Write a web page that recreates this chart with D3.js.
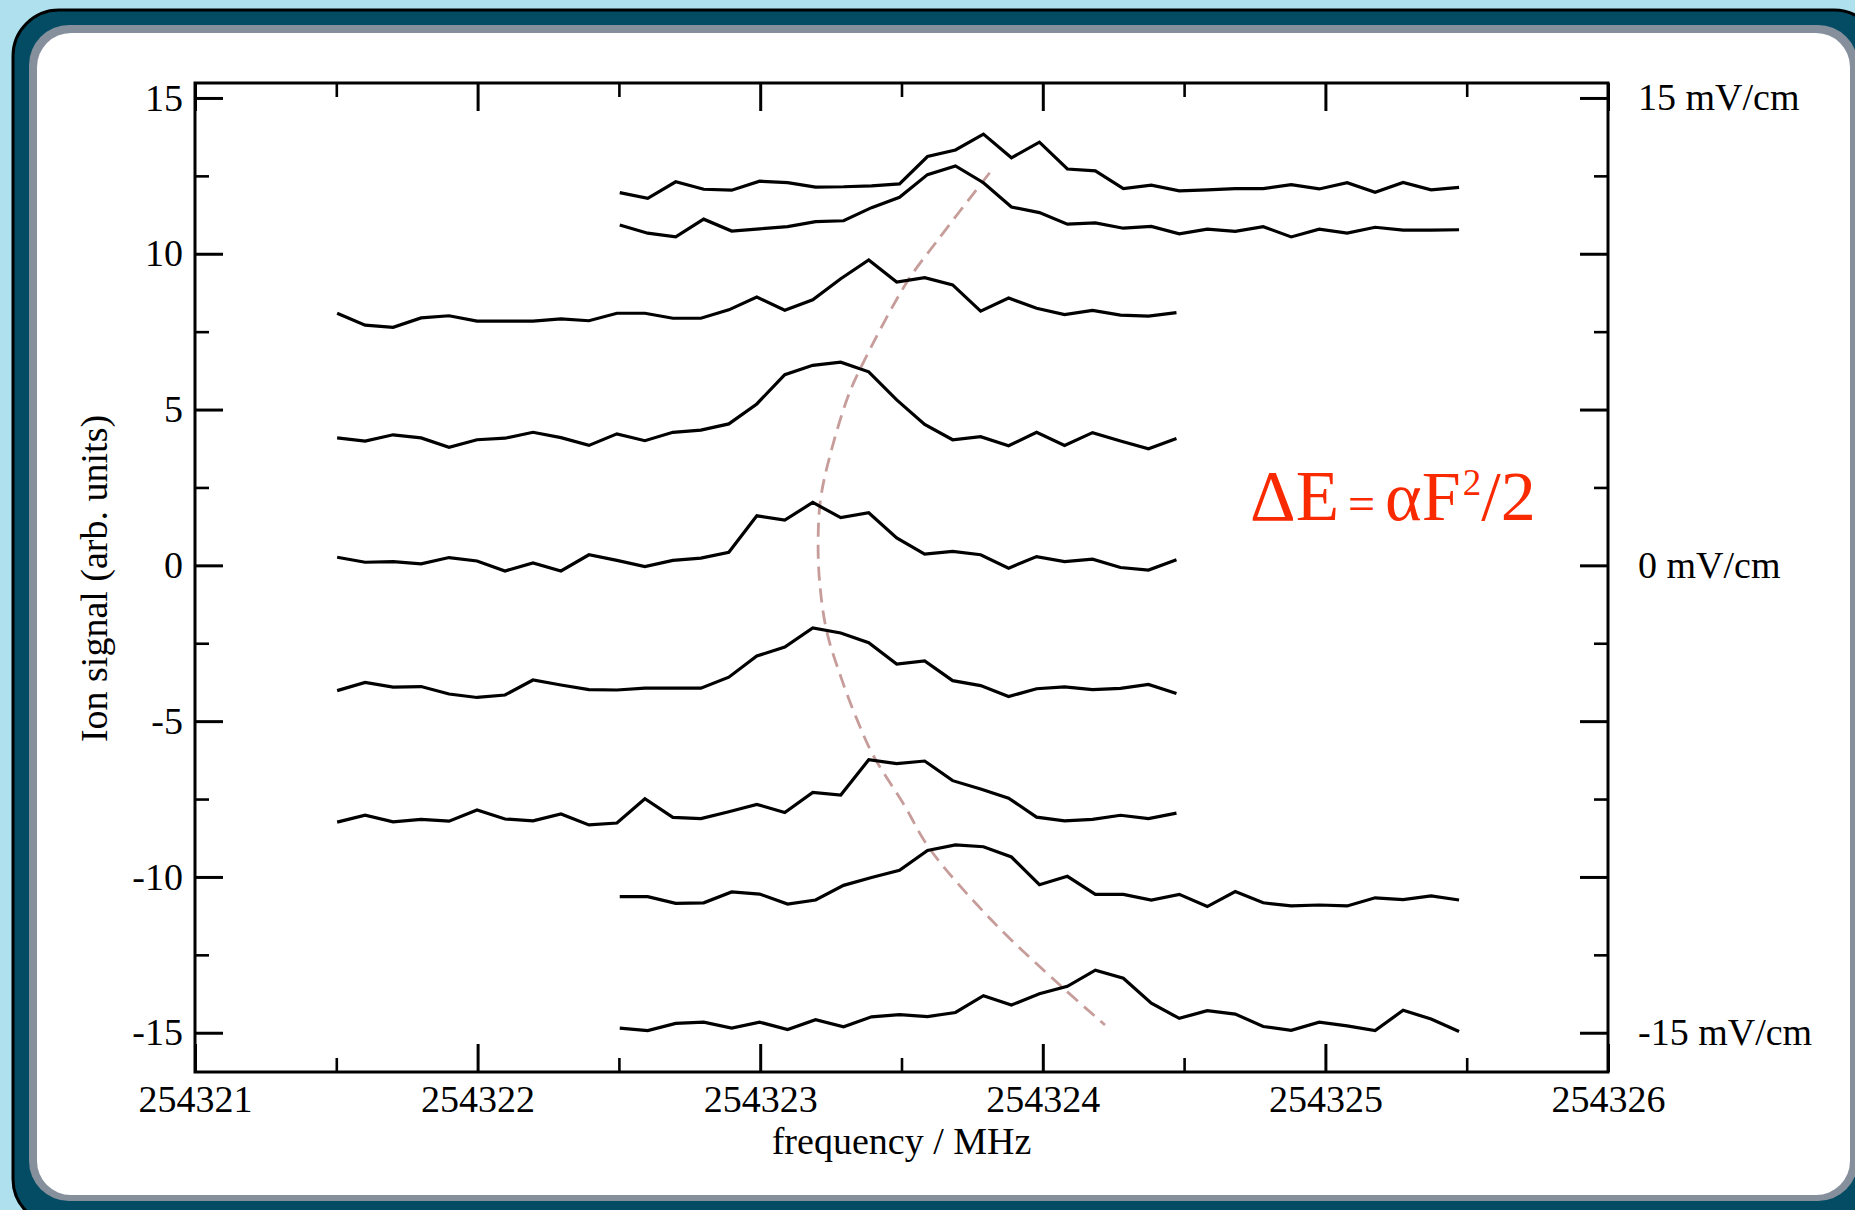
<!DOCTYPE html>
<html>
<head>
<meta charset="utf-8">
<script src="https://cdn.jsdelivr.net/npm/d3@7"></script>
<style>
  html, body { margin: 0; padding: 0; background: #aee0ee; }
  svg { display: block; }
</style>
</head>
<body>
<svg id="chart" width="1855" height="1210"></svg>
<script>
// Sample grid: 31 points per scan, 0.099 MHz apart
const scanStep = 0.099;
const scanStarts = [254322.503, 254322.503, 254321.503, 254321.503, 254321.503, 254321.503, 254321.503, 254322.503, 254322.503];

// Ion signal for each field setting, top (+15 mV/cm) to bottom (-15 mV/cm), offset vertically
const scan1 = [11.96, 11.78, 12.31, 12.07, 12.04, 12.33, 12.28, 12.14, 12.15, 12.18, 12.24, 13.12, 13.33, 13.84, 13.08, 13.58, 12.72, 12.66, 12.09, 12.20, 12.02, 12.05, 12.09, 12.09, 12.22, 12.08, 12.28, 11.97, 12.29, 12.05, 12.13];
const scan2 = [10.92, 10.66, 10.54, 11.11, 10.73, 10.80, 10.87, 11.03, 11.06, 11.48, 11.81, 12.54, 12.82, 12.28, 11.50, 11.32, 10.95, 10.99, 10.82, 10.88, 10.64, 10.79, 10.72, 10.87, 10.54, 10.79, 10.66, 10.85, 10.76, 10.76, 10.77];
const scan3 = [8.09, 7.71, 7.64, 7.94, 8.01, 7.84, 7.84, 7.84, 7.91, 7.85, 8.09, 8.09, 7.93, 7.93, 8.20, 8.61, 8.19, 8.52, 9.20, 9.80, 9.09, 9.23, 9.00, 8.16, 8.58, 8.25, 8.05, 8.18, 8.03, 8.00, 8.11];
const scan4 = [4.09, 3.99, 4.19, 4.09, 3.79, 4.03, 4.08, 4.27, 4.10, 3.85, 4.22, 4.00, 4.27, 4.34, 4.54, 5.18, 6.12, 6.42, 6.52, 6.21, 5.31, 4.52, 4.03, 4.13, 3.84, 4.27, 3.85, 4.26, 3.99, 3.74, 4.07];
const scan5 = [0.26, 0.10, 0.12, 0.05, 0.25, 0.14, -0.18, 0.08, -0.18, 0.34, 0.16, -0.04, 0.16, 0.23, 0.42, 1.59, 1.45, 2.02, 1.53, 1.69, 0.88, 0.36, 0.45, 0.34, -0.09, 0.28, 0.12, 0.20, -0.07, -0.15, 0.18];
const scan6 = [-4.02, -3.76, -3.91, -3.89, -4.13, -4.24, -4.16, -3.68, -3.84, -3.99, -4.00, -3.94, -3.94, -3.94, -3.59, -2.91, -2.62, -2.01, -2.17, -2.48, -3.17, -3.07, -3.70, -3.86, -4.21, -3.96, -3.90, -3.99, -3.95, -3.82, -4.11];
const scan7 = [-8.24, -8.02, -8.23, -8.15, -8.21, -7.85, -8.14, -8.20, -7.98, -8.33, -8.27, -7.49, -8.09, -8.13, -7.91, -7.67, -7.93, -7.29, -7.37, -6.24, -6.36, -6.28, -6.91, -7.18, -7.47, -8.08, -8.20, -8.15, -8.02, -8.13, -7.95];
const scan8 = [-10.63, -10.63, -10.85, -10.83, -10.48, -10.55, -10.87, -10.74, -10.27, -10.02, -9.79, -9.15, -8.97, -9.03, -9.36, -10.25, -9.98, -10.56, -10.56, -10.74, -10.56, -10.95, -10.47, -10.83, -10.93, -10.90, -10.93, -10.67, -10.73, -10.61, -10.74];
const scan9 = [-14.85, -14.93, -14.70, -14.66, -14.85, -14.66, -14.90, -14.58, -14.81, -14.49, -14.42, -14.48, -14.35, -13.81, -14.11, -13.75, -13.51, -12.99, -13.25, -14.05, -14.54, -14.29, -14.40, -14.80, -14.92, -14.66, -14.78, -14.93, -14.28, -14.56, -14.96];

// Stark-shift guide: line centre versus field offset
const guideFreq  = [254323.812, 254323.625, 254323.52, 254323.37, 254323.31, 254323.235, 254323.212, 254323.205, 254323.21, 254323.235, 254323.29, 254323.345, 254323.40, 254323.51, 254323.60, 254323.82, 254324.07, 254324.22];
const guideLevel = [12.6, 10.4, 9.1, 6.6, 5.4, 3.1, 2.0, 0.8, -0.5, -2.1, -3.7, -5.0, -6.1, -7.7, -9.1, -11.4, -13.55, -14.75];

// Axis ticks and labels
const xMajorTicks = [254321, 254322, 254323, 254324, 254325, 254326];
const xMinorTicks = [254321.5, 254322.5, 254323.5, 254324.5, 254325.5];
const yMajorTicks = [-15, -10, -5, 0, 5, 10, 15];
const yMinorTicks = [-12.5, -7.5, -2.5, 2.5, 7.5, 12.5];
const fieldLabels = ["15 mV/cm", "0 mV/cm", "-15 mV/cm"];
const fieldLabelLevels = [15, 0, -15];

const scans = [scan1, scan2, scan3, scan4, scan5, scan6, scan7, scan8, scan9];

const svg = d3.select("#chart");
const FONT = "'Liberation Serif', 'Times New Roman', Times, serif";

// ---- rounded slide frame ----
svg.append("rect").attr("x", 0).attr("y", 0).attr("width", 1855).attr("height", 1210).attr("fill", "#aee0ee");
svg.append("rect").attr("x", 13).attr("y", 10).attr("width", 1880 - 13).attr("height", 1225 - 10)
  .attr("rx", 46).attr("fill", "#034c63").attr("stroke", "#000").attr("stroke-width", 3);
svg.append("rect").attr("x", 29).attr("y", 25).attr("width", 1858 - 29).attr("height", 1201 - 25)
  .attr("rx", 40).attr("fill", "#86909d");
svg.append("rect").attr("x", 37).attr("y", 33).attr("width", 1850 - 37).attr("height", 1195 - 33)
  .attr("rx", 34).attr("fill", "#ffffff");

// ---- plot area ----
const plotL = 195, plotR = 1608, plotT = 83, plotB = 1072;
const x = d3.scaleLinear().domain([254321, 254326]).range([plotL, plotR]);
const y = d3.scaleLinear().domain([-16.26, 15.48]).range([plotB, plotT]);

const g = svg.append("g");

function styleAxis(sel, width) {
  sel.select(".domain").remove();
  sel.selectAll(".tick line").attr("stroke", "#000").attr("stroke-width", width);
  sel.selectAll("text").attr("fill", "#000").style("font-family", FONT).style("font-size", "38px");
}

const hyphen = d => String(d);

// left axis
g.append("g").attr("transform", `translate(${plotL},0)`)
  .call(d3.axisLeft(y).tickValues(yMajorTicks).tickSize(-28).tickPadding(12).tickFormat(hyphen))
  .call(s => styleAxis(s, 3));
g.append("g").attr("transform", `translate(${plotL},0)`)
  .call(d3.axisLeft(y).tickValues(yMinorTicks).tickSize(-14).tickFormat(""))
  .call(s => styleAxis(s, 2.6));
// right axis
g.append("g").attr("transform", `translate(${plotR},0)`)
  .call(d3.axisRight(y).tickValues(yMajorTicks).tickSize(-28).tickFormat(""))
  .call(s => styleAxis(s, 3));
g.append("g").attr("transform", `translate(${plotR},0)`)
  .call(d3.axisRight(y).tickValues(yMinorTicks).tickSize(-14).tickFormat(""))
  .call(s => styleAxis(s, 2.6));
// bottom axis
g.append("g").attr("transform", `translate(0,${plotB})`)
  .call(d3.axisBottom(x).tickValues(xMajorTicks).tickSize(-28).tickPadding(13).tickFormat(d3.format("d")))
  .call(s => styleAxis(s, 3));
g.append("g").attr("transform", `translate(0,${plotB})`)
  .call(d3.axisBottom(x).tickValues(xMinorTicks).tickSize(-14).tickFormat(""))
  .call(s => styleAxis(s, 2.6));
// top axis
g.append("g").attr("transform", `translate(0,${plotT})`)
  .call(d3.axisTop(x).tickValues(xMajorTicks).tickSize(-28).tickFormat(""))
  .call(s => styleAxis(s, 3));
g.append("g").attr("transform", `translate(0,${plotT})`)
  .call(d3.axisTop(x).tickValues(xMinorTicks).tickSize(-14).tickFormat(""))
  .call(s => styleAxis(s, 2.6));

// plot box
g.append("rect").attr("x", plotL).attr("y", plotT).attr("width", plotR - plotL).attr("height", plotB - plotT)
  .attr("fill", "none").attr("stroke", "#000").attr("stroke-width", 3);

// field labels on the right
g.selectAll("text.field").data(fieldLabels).join("text")
  .attr("class", "field")
  .attr("x", plotR + 30)
  .attr("y", (d, i) => y(fieldLabelLevels[i]))
  .attr("dy", "0.33em")
  .attr("fill", "#000")
  .style("font-family", FONT).style("font-size", "38px")
  .text(d => d);

// axis titles
g.append("text")
  .attr("x", (plotL + plotR) / 2).attr("y", 1154)
  .attr("text-anchor", "middle").attr("fill", "#000")
  .style("font-family", FONT).style("font-size", "38px")
  .text("frequency / MHz");
g.append("text")
  .attr("transform", `translate(107,${(plotT + plotB) / 2 + 1}) rotate(-90)`)
  .attr("text-anchor", "middle").attr("fill", "#000")
  .style("font-family", FONT).style("font-size", "38px")
  .text("Ion signal (arb. units)");

// ---- guide curve ----
const guidePts = guideFreq.map((f, i) => [f, guideLevel[i]]);
g.append("path")
  .datum(guidePts)
  .attr("fill", "none")
  .attr("stroke", "#c69d9a")
  .attr("stroke-width", 2.8)
  .attr("stroke-dasharray", "14,8")
  .attr("d", d3.line().x(d => x(d[0])).y(d => y(d[1])).curve(d3.curveCatmullRom.alpha(0.5)));

// ---- scans ----
const line = d3.line().x(d => x(d[0])).y(d => y(d[1]));
g.selectAll("path.scan")
  .data(scans.map((vals, k) => vals.map((v, i) => [scanStarts[k] + i * scanStep, v])))
  .join("path")
  .attr("class", "scan")
  .attr("fill", "none")
  .attr("stroke", "#000")
  .attr("stroke-width", 3.2)
  .attr("stroke-linejoin", "miter")
  .attr("d", line);

// ---- Stark shift formula ----
const formula = g.append("text")
  .attr("x", 1250).attr("y", 520)
  .attr("fill", "#fa2a00")
  .style("font-family", FONT);
formula.append("tspan").style("font-size", "71px").text("ΔE");
formula.append("tspan").style("font-size", "48px").attr("dx", 9).text("=");
formula.append("tspan").style("font-size", "70px").attr("dx", 10).text("αF");
formula.append("tspan").style("font-size", "37px").attr("dx", 2).attr("dy", -25).text("2");
formula.append("tspan").style("font-size", "70px").attr("dy", 25).text("/2");
</script>
</body>
</html>
